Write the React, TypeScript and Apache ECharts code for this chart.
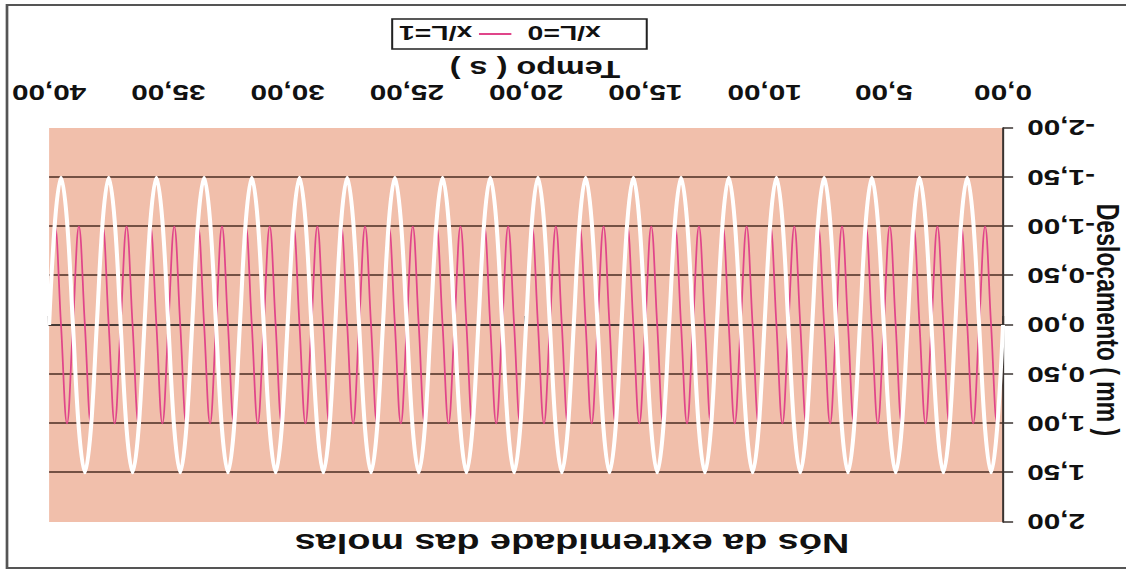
import React, { useEffect, useRef } from "react";
import * as echarts from "echarts";

// Sampling step of the recorded signals (s)
const SAMPLE_STEP = 0.25;

// Nó x/L=0 : displacement (mm), one value every 0.25 s from 0 to 40 s
const node0: number[] = [
  0, 1.06, 1.5, 1.06, 0, -1.06, -1.5, -1.06,
  0, 1.06, 1.5, 1.06, 0, -1.06, -1.5, -1.06,
  0, 1.06, 1.5, 1.06, 0, -1.06, -1.5, -1.06,
  0, 1.06, 1.5, 1.06, 0, -1.06, -1.5, -1.06,
  0, 1.06, 1.5, 1.06, 0, -1.06, -1.5, -1.06,
  0, 1.06, 1.5, 1.06, 0, -1.06, -1.5, -1.06,
  0, 1.06, 1.5, 1.06, 0, -1.06, -1.5, -1.06,
  0, 1.06, 1.5, 1.06, 0, -1.06, -1.5, -1.06,
  0, 1.06, 1.5, 1.06, 0, -1.06, -1.5, -1.06,
  0, 1.06, 1.5, 1.06, 0, -1.06, -1.5, -1.06,
  0, 1.06, 1.5, 1.06, 0, -1.06, -1.5, -1.06,
  0, 1.06, 1.5, 1.06, 0, -1.06, -1.5, -1.06,
  0, 1.06, 1.5, 1.06, 0, -1.06, -1.5, -1.06,
  0, 1.06, 1.5, 1.06, 0, -1.06, -1.5, -1.06,
  0, 1.06, 1.5, 1.06, 0, -1.06, -1.5, -1.06,
  0, 1.06, 1.5, 1.06, 0, -1.06, -1.5, -1.06,
  0, 1.06, 1.5, 1.06, 0, -1.06, -1.5, -1.06,
  0, 1.06, 1.5, 1.06, 0, -1.06, -1.5, -1.06,
  0, 1.06, 1.5, 1.06, 0, -1.06, -1.5, -1.06,
  0, 1.06, 1.5, 1.06, 0, -1.06, -1.5, -1.06,
  0,
];

// Nó x/L=1 : displacement (mm), one value every 0.25 s from 0 to 40 s
const node1: number[] = [
  0, 1, 0, -1, 0, 1, 0, -1, 0, 1, 0, -1, 0, 1, 0, -1,
  0, 1, 0, -1, 0, 1, 0, -1, 0, 1, 0, -1, 0, 1, 0, -1,
  0, 1, 0, -1, 0, 1, 0, -1, 0, 1, 0, -1, 0, 1, 0, -1,
  0, 1, 0, -1, 0, 1, 0, -1, 0, 1, 0, -1, 0, 1, 0, -1,
  0, 1, 0, -1, 0, 1, 0, -1, 0, 1, 0, -1, 0, 1, 0, -1,
  0, 1, 0, -1, 0, 1, 0, -1, 0, 1, 0, -1, 0, 1, 0, -1,
  0, 1, 0, -1, 0, 1, 0, -1, 0, 1, 0, -1, 0, 1, 0, -1,
  0, 1, 0, -1, 0, 1, 0, -1, 0, 1, 0, -1, 0, 1, 0, -1,
  0, 1, 0, -1, 0, 1, 0, -1, 0, 1, 0, -1, 0, 1, 0, -1,
  0, 1, 0, -1, 0, 1, 0, -1, 0, 1, 0, -1, 0, 1, 0, -1,
  0,
];

const seriesNames = ["x/L=0", "x/L=1"];
const titleText = "Nós da extremidade das molas";
const xName = "Tempo ( s )";
const yName = "Deslocamento ( mm )";

const S = 1.35; // horizontal stretch of the scanned picture
const W = 1126 / S;
const FONT = '"Liberation Sans", Arial, sans-serif';

const fmt = (v: number) => v.toFixed(2).replace(".", ",");
const pairs = (vals: number[]) => vals.map((v, i) => [i * SAMPLE_STEP, v]);

export default function App() {
  const ref = useRef<HTMLDivElement>(null);

  useEffect(() => {
    if (!ref.current) return;
    const chart = echarts.init(ref.current, undefined, { renderer: "svg" });
    const axisColor = "#3a3330";
    chart.setOption({
      animation: false,
      backgroundColor: "#ffffff",
      grid: {
        left: 123 / S,
        right: 49 / S,
        top: 50,
        bottom: 128,
        show: true,
        backgroundColor: "#F1BFAB",
        borderWidth: 0,
      },
      xAxis: {
        type: "value",
        min: 0,
        max: 40,
        interval: 5,
        axisLine: { show: true, lineStyle: { color: axisColor, width: 1.5 } },
        axisTick: { show: true, length: 9, lineStyle: { color: axisColor, width: 1.5 } },
        axisLabel: {
          formatter: fmt,
          fontSize: 22,
          fontWeight: "bold",
          fontFamily: FONT,
          color: "#111",
          margin: 24,
        },
        splitLine: { show: false },
      },
      yAxis: {
        type: "value",
        min: -2,
        max: 2,
        interval: 0.5,
        axisLine: { show: true, lineStyle: { color: axisColor, width: 1.5 } },
        axisTick: { show: true, length: 7.5, lineStyle: { color: axisColor, width: 1.5 } },
        axisLabel: {
          formatter: fmt,
          fontSize: 22,
          fontWeight: "bold",
          fontFamily: FONT,
          color: "#111",
          margin: 18,
        },
        splitLine: {
          show: true,
          showMinLine: false,
          showMaxLine: false,
          lineStyle: { color: "#4a2c22", width: 1.6 },
        },
      },
      legend: {
        data: seriesNames.map((n) => ({ name: n, icon: "rect" })),
        left: 355,
        top: 523,
        orient: "horizontal",
        itemWidth: 24,
        itemHeight: 2,
        itemGap: 12,
        padding: [4, 5],
        backgroundColor: "#ffffff",
        borderColor: "#222",
        borderWidth: 1.5,
        textStyle: {
          fontSize: 21,
          fontWeight: "bold",
          fontFamily: FONT,
          color: "#111",
          lineHeight: 22,
        },
      },
      series: [
        {
          name: seriesNames[0],
          type: "line",
          data: pairs(node0),
          showSymbol: false,
          smooth: 0.35,
          z: 3,
          lineStyle: { color: "#ffffff", width: 3 },
          itemStyle: { color: "#ffffff" },
        },
        {
          name: seriesNames[1],
          type: "line",
          data: pairs(node1),
          showSymbol: false,
          smooth: 0.4,
          z: 2,
          lineStyle: { color: "#E0458A", width: 1.3 },
          itemStyle: { color: "#E0458A" },
        },
      ],
      graphic: [
        {
          type: "rect",
          silent: true,
          shape: { x: -2 / S, y: 4, width: 1121 / S, height: 563 },
          style: { fill: "none", stroke: "#555", lineWidth: 2 },
        },
        {
          type: "text",
          silent: true,
          x: 554 / S,
          y: 28,
          style: {
            text: titleText,
            fontSize: 28,
            fontWeight: "bold",
            fontFamily: FONT,
            fill: "#111",
            align: "center",
            verticalAlign: "middle",
            textAlign: "center",
            textVerticalAlign: "middle",
          },
        },
        {
          type: "text",
          silent: true,
          x: 591 / S,
          y: 503,
          style: {
            text: xName,
            fontSize: 24,
            fontWeight: "bold",
            fontFamily: FONT,
            fill: "#111",
            align: "center",
            verticalAlign: "middle",
            textAlign: "center",
            textVerticalAlign: "middle",
          },
        },
        {
          type: "text",
          silent: true,
          x: 18 / S,
          y: 252,
          rotation: Math.PI / 2,
          style: {
            text: yName,
            fontSize: 23,
            fontWeight: "bold",
            fontFamily: FONT,
            fill: "#111",
            align: "center",
            verticalAlign: "middle",
            textAlign: "center",
            textVerticalAlign: "middle",
          },
        },
      ],
    });
    return () => chart.dispose();
  }, []);

  return (
    <div
      style={{
        position: "fixed",
        left: 0,
        top: 0,
        width: 1126,
        height: 572,
        overflow: "hidden",
        background: "#fff",
      }}
    >
      <div
        ref={ref}
        style={{
          position: "absolute",
          left: 0,
          top: 0,
          width: W,
          height: 572,
          transformOrigin: "0 0",
          transform: `translate(1126px, 572px) rotate(180deg) scaleX(${S})`,
        }}
      />
    </div>
  );
}
